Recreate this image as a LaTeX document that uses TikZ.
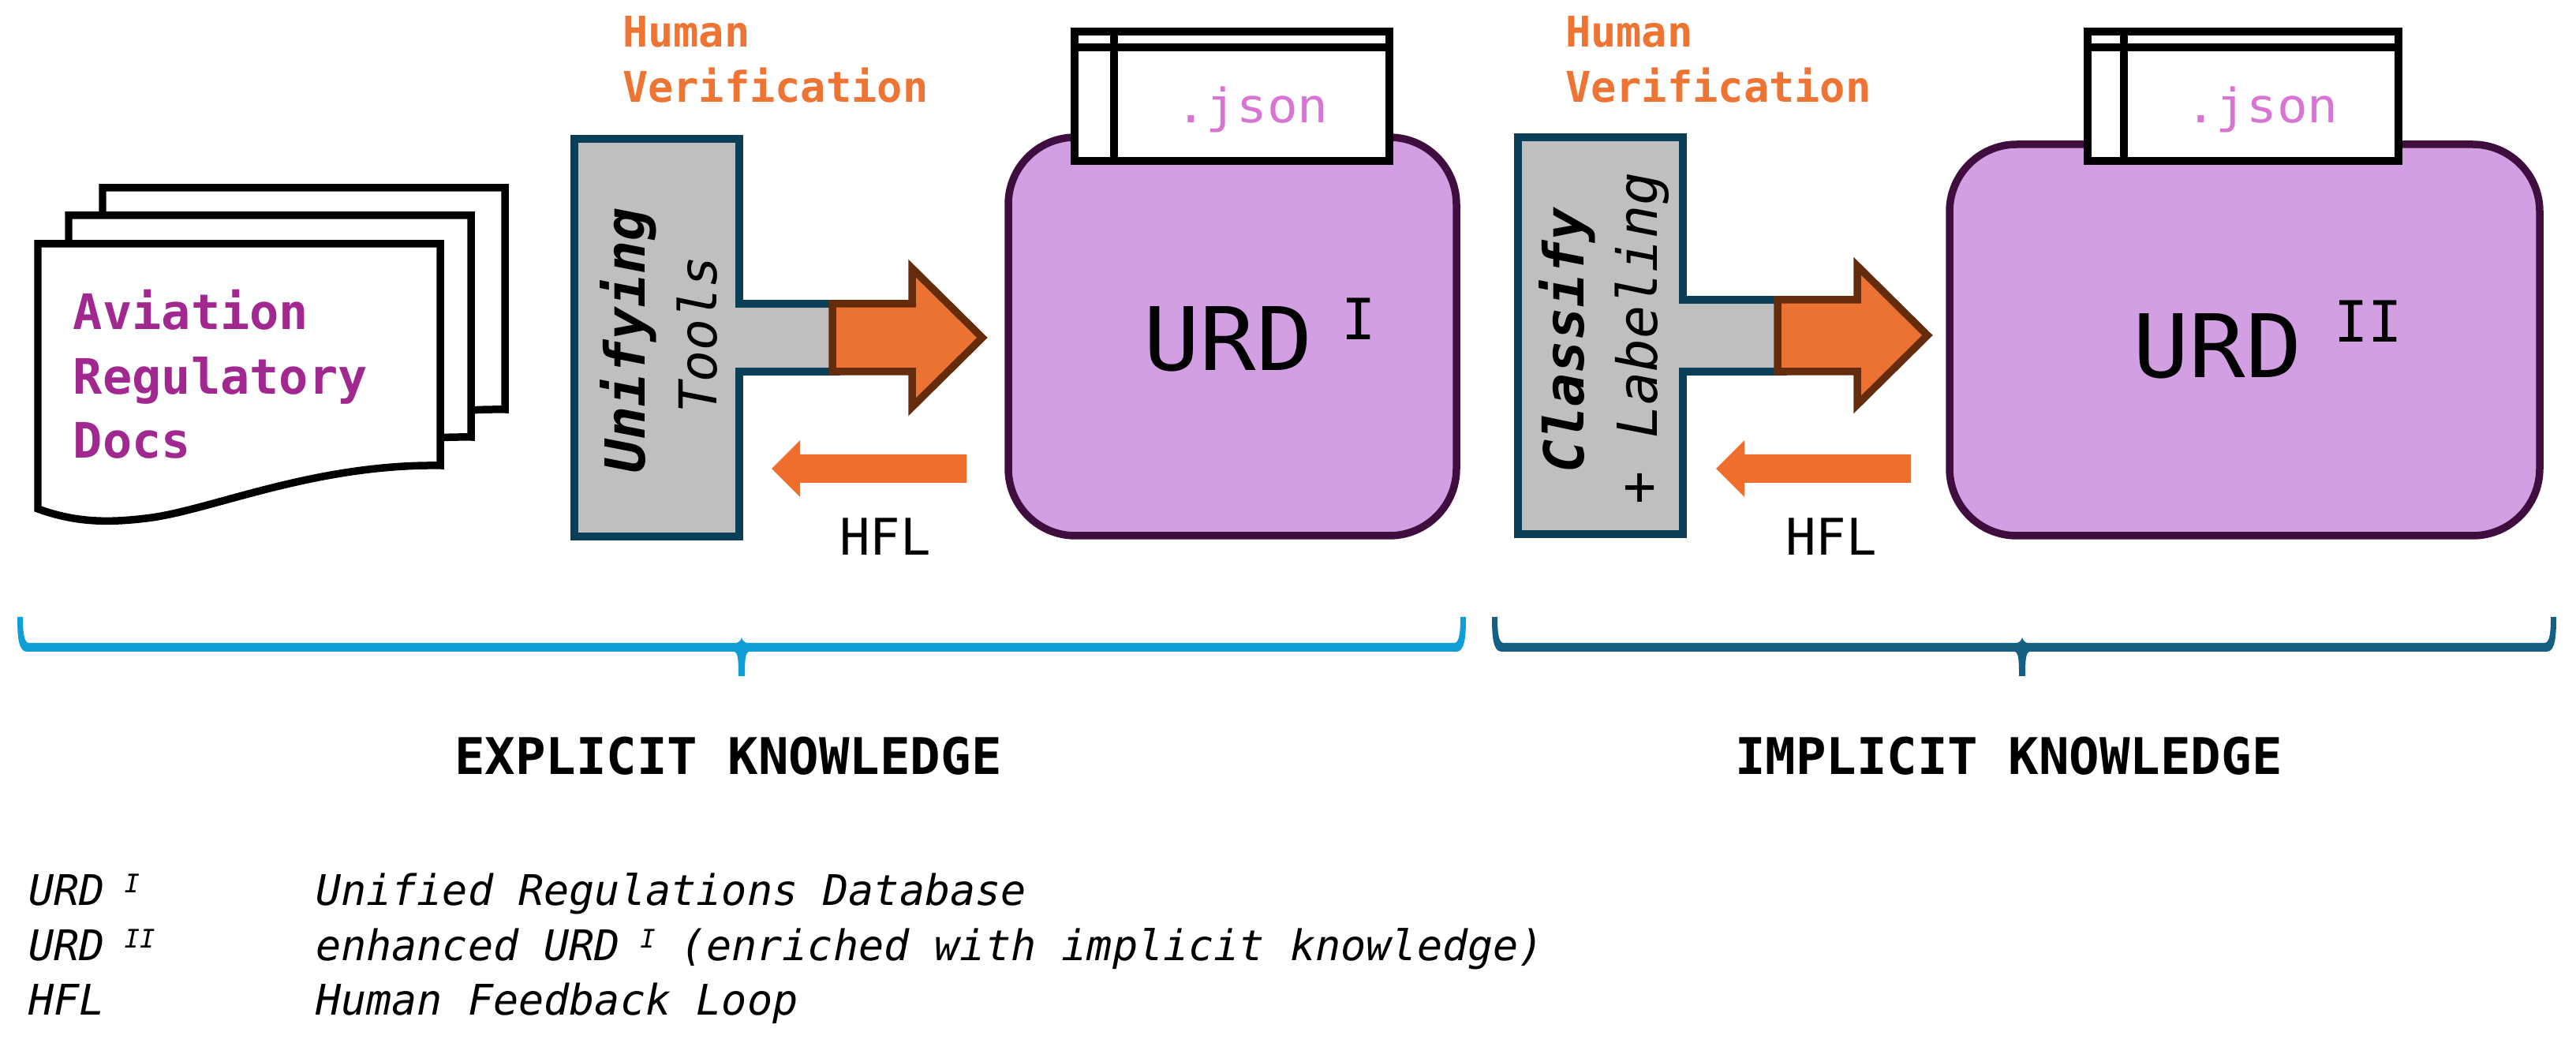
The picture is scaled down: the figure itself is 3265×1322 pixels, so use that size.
\documentclass[tikz,border=0pt]{standalone}
\usepackage{graphicx}
\usepackage{fontspec}
\setmainfont{DejaVu Sans Mono}
\newcommand\fs[1]{\fontsize{#1}{#1}\selectfont}
\newcommand\wider[1]{\scalebox{1.07}[1]{#1}}
\newcommand\supr[1]{\kern-2pt\raisebox{4.8pt}{\fs{9.2}#1}}
\definecolor{orangeT}{HTML}{EC7234}
\definecolor{hvcol}{HTML}{EE7434}
\definecolor{arrowEdge}{HTML}{642C0D}
\definecolor{hflcol}{HTML}{F06E2B}
\definecolor{teeFill}{HTML}{BFBFBF}
\definecolor{teeEdge}{HTML}{0A3F57}
\definecolor{urdFill}{HTML}{D29FE2}
\definecolor{urdEdge}{HTML}{3F0D3E}
\definecolor{docText}{HTML}{A0288F}
\definecolor{jsonText}{HTML}{D874D3}
\definecolor{braceA}{HTML}{0F9ED5}
\definecolor{braceB}{HTML}{156082}
\tikzset{
  x=0.01cm,y=-0.01cm,
  txt/.style={inner sep=0pt,outer sep=0pt,anchor=base west},
  heavy/.style={line width=2.7pt,miter limit=10},
  urdbox/.style={heavy,draw=urdEdge,fill=urdFill,rounded corners=0.85cm},
  tee/.style={heavy,draw=teeEdge,fill=teeFill},
  bigarrow/.style={heavy,draw=arrowEdge,fill=orangeT},
  hflarrow/.style={fill=hflcol,draw=none},
  sheet/.style={heavy,draw=black,fill=white},
  jsonbox/.style={heavy,draw=black,fill=white},
  hv/.style={txt,text=hvcol,font=\fs{15.25}\bfseries},
  doctxt/.style={txt,text=docText,font=\fs{17.6}\bfseries},
  rot/.style={inner sep=0pt,outer sep=0pt,anchor=base west,rotate=90,font=\fs{19.9}},
  legend/.style={txt,font=\fs{15.2}\itshape},
  heading/.style={txt,font=\fs{18.2}\bfseries},
}
\begin{document}
\begin{tikzpicture}
\useasboundingbox (0,0) rectangle (3265,1322);
% document stack
\foreach \dx/\dy in {82/-71,39/-36,0/0}{
  \draw[sheet,shift={(\dx,\dy)}] (48,309) -- (558,309) -- (558,590)
    .. controls (395,588) and (265,648) .. (185,657)
    .. controls (135,663) and (95,662) .. (48,645) -- cycle;
}
\node[doctxt] (doc1) at (93,418) {Aviation};
\node[doctxt] (doc2) at (93,500) {Regulatory};
\node[doctxt] (doc3) at (93,581) {Docs};
% first tool
\draw[tee] (728,176) -- (937,176) -- (937,385) -- (1060,385) -- (1060,471) -- (937,471) -- (937,680) -- (728,680) -- cycle;
\draw[bigarrow] (1055,385) -- (1156,385) -- (1156,340) -- (1245,428) -- (1156,516) -- (1156,471) -- (1055,471) -- cycle;
\node[rot] (t1a) at (817,600) {\bfseries\itshape Unifying};
\node[rot,font=\fs{18.8}] (t1b) at (908,524) {\itshape Tools};
\node[hv] (hv1a) at (789,60) {Human};
\node[hv] (hv1b) at (789,130) {Verification};
\fill[hflarrow] (1225,576) -- (1014,576) -- (1014,558) -- (978,594) -- (1014,630) -- (1014,612) -- (1225,612) -- cycle;
\node[txt,font=\fs{18.2}] (hfl1) at (1064,704) {HFL};
% URD I
\draw[urdbox] (1278,174) rectangle (1846,679);
\draw[jsonbox] (1362,40) rectangle (1761,204);
\draw[heavy] (1412,40) -- (1412,204) (1362,60) -- (1761,60);
\node[txt,text=jsonText,font=\fs{17.1}] (j1) at (1490,156) {\wider{.json}};
\node[txt,font=\fs{31.6}] (u1) at (1449,470) {\wider{URD}};
\node[txt,font=\fs{20.5}] (u1s) at (1700,431) {I};
% second tool
\draw[tee] (1924,174) -- (2133,174) -- (2133,380) -- (2260,380) -- (2260,471) -- (2133,471) -- (2133,677) -- (1924,677) -- cycle;
\draw[bigarrow] (2253,380) -- (2354,380) -- (2354,337) -- (2443,425) -- (2354,513) -- (2354,471) -- (2253,471) -- cycle;
\node[rot] (t2a) at (2007,600) {\bfseries\itshape Classify};
\node[rot] (t2b) at (2100,640) {\itshape + Labeling};
\node[hv] (hv2a) at (1984,60) {Human};
\node[hv] (hv2b) at (1984,130) {Verification};
\fill[hflarrow] (2422,576) -- (2211,576) -- (2211,558) -- (2175,594) -- (2211,630) -- (2211,612) -- (2422,612) -- cycle;
\node[txt,font=\fs{18.2}] (hfl2) at (2263,704) {HFL};
% URD II
\draw[urdbox] (2471,183) rectangle (3219,679);
\draw[jsonbox] (2646,40) rectangle (3040,204);
\draw[heavy] (2692,40) -- (2692,204) (2646,60) -- (3040,60);
\node[txt,text=jsonText,font=\fs{17.1}] (j2) at (2770,156) {\wider{.json}};
\node[txt,font=\fs{31.6}] (u2) at (2703,479) {\wider{URD}};
\node[txt,font=\fs{20.5}] (u2s) at (2958,434) {II};
% braces
\fill[braceA] (22,782) .. controls (22,805) and (23,826) .. (34,826) -- (930,826)
  .. controls (936,826) and (936,840) .. (936,857) -- (944,857)
  .. controls (944,840) and (944,826) .. (950,826) -- (1846,826)
  .. controls (1857,826) and (1858,805) .. (1858,782) -- (1851,782)
  .. controls (1851,800) and (1850,815) .. (1843,815) -- (948,815)
  .. controls (944,815) and (941,812) .. (940,808)
  .. controls (939,812) and (936,815) .. (932,815) -- (37,815)
  .. controls (30,815) and (29,800) .. (29,782) -- cycle;
\fill[braceB] (1891,782) .. controls (1891,805) and (1892,826) .. (1903,826) -- (2553,826)
  .. controls (2559,826) and (2559,840) .. (2559,857) -- (2567,857)
  .. controls (2567,840) and (2567,826) .. (2573,826) -- (3228,826)
  .. controls (3239,826) and (3240,805) .. (3240,782) -- (3233,782)
  .. controls (3233,800) and (3232,815) .. (3225,815) -- (2571,815)
  .. controls (2567,815) and (2564,812) .. (2563,808)
  .. controls (2562,812) and (2559,815) .. (2555,815) -- (1906,815)
  .. controls (1899,815) and (1898,800) .. (1898,782) -- cycle;
\node[heading] (ek) at (576,982) {EXPLICIT KNOWLEDGE};
\node[heading] (ik) at (2199,982) {IMPLICIT KNOWLEDGE};
% legend
\node[legend] (l1a) at (36,1148) {URD \supr{I}};
\node[legend] (l1b) at (400,1148) {Unified Regulations Database};
\node[legend] (l2a) at (36,1218) {URD \supr{II}};
\node[legend] (l2b) at (400,1218) {enhanced URD \supr{I} (enriched with implicit knowledge)};
\node[legend] (l3a) at (36,1287) {HFL};
\node[legend] (l3b) at (400,1287) {Human Feedback Loop};
\end{tikzpicture}
\end{document}
